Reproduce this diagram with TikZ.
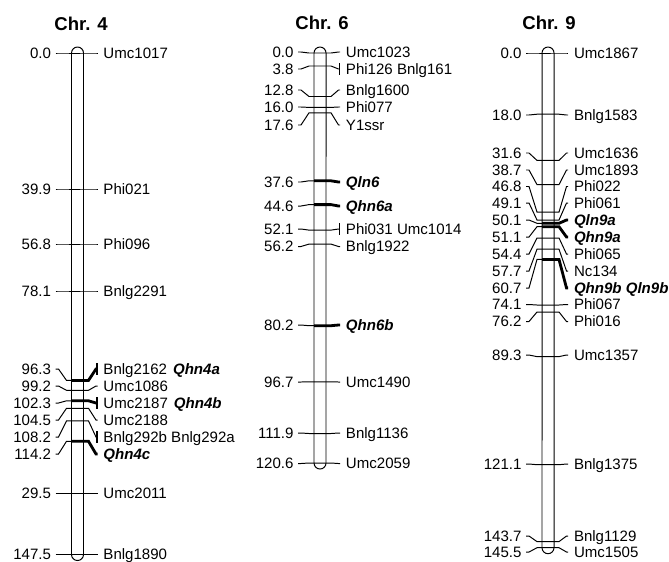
\documentclass[tikz,border=0pt]{standalone}
\usepackage{fontspec}
\setmainfont{Liberation Sans}
\usetikzlibrary{calc,arrows.meta}

\newcommand{\qn}[1]{\textbf{\textit{#1}}}
% marker: id, bar centre, y on bar, y of labels, position, name, style of right part
\newcommand{\mrk}[7]{%
  \coordinate (p#1) at (#2,#3);
  \node[posnum] (n#1) at (#2-26,#4) {#5};
  \node[mkname] (m#1) at (#2+25.5,#4) {#6};
  \draw ($(n#1.east)+(4,0)$) -- ++(3,0) -- ($(p#1)+(-11,0)$) -- ($(p#1)+(-6,0)$);
  \draw[#7] ($(p#1)+(-6,0)$) -- ($(p#1)+(11,0)$) -- ($(m#1.west)+(-7,0)$) -- ($(m#1.west)+(-5.5,0)$);
}
% chromosome bar: centre, top, bottom
\newcommand{\chrbar}[3]{%
  \draw (#1-6,#2) arc[start angle=180,end angle=0,radius=0.15cm]
    -- (#1+6,#3) arc[start angle=0,end angle=-180,radius=0.15cm] -- cycle;
}

\begin{document}
\begin{tikzpicture}[x=0.025cm,y=-0.025cm,line width=0.7pt,
  posnum/.style={anchor=east,inner sep=0pt,text height=7.7pt,text depth=0pt,
    font=\fontsize{10.7}{12}\selectfont},
  mkname/.style={anchor=west,inner sep=0pt,text height=7.7pt,text depth=0pt,
    font=\fontsize{10.7}{12}\selectfont},
  chrtitle/.style={inner sep=0pt,font=\fontsize{13.2}{15}\selectfont\bfseries},
  qtl/.style={line width=2pt},
  samepos/.style={-{Bar[width=0.3cm,line width=1pt]}}]
\useasboundingbox (0,0) rectangle (669,561);

% Chr. 4
\node[chrtitle] (t4) at (81,24) {Chr. 4};
\chrbar{77.5}{53}{554.5}
\mrk{4a}{77.5}{53}{53}{0.0}{Umc1017}{}
\mrk{4b}{77.5}{189}{189}{39.9}{Phi021}{}
\mrk{4c}{77.5}{244}{244}{56.8}{Phi096}{}
\mrk{4d}{77.5}{291}{291}{78.1}{Bnlg2291}{}
\mrk{4e}{77.5}{380.4}{369}{96.3}{Bnlg2162\hspace{.4em}\qn{Qhn4a}}{qtl,samepos}
\mrk{4f}{77.5}{390.3}{386}{99.2}{Umc1086}{}
\mrk{4g}{77.5}{400.8}{403}{102.3}{Umc2187\hspace{.4em}\qn{Qhn4b}}{qtl,samepos}
\mrk{4h}{77.5}{408.3}{420}{104.5}{Umc2188}{}
\mrk{4i}{77.5}{420.9}{437}{108.2}{Bnlg292b Bnlg292a}{samepos}
\mrk{4j}{77.5}{441.3}{454}{114.2}{\qn{Qhn4c}}{qtl}
\mrk{4k}{77.5}{493.3}{493.3}{29.5}{Umc2011}{}
\mrk{4l}{77.5}{554.5}{554.5}{147.5}{Bnlg1890}{}

% Chr. 6
\node[chrtitle] (t6) at (322,23) {Chr. 6};
\chrbar{320}{53}{463}
\mrk{6a}{320}{53}{52}{0.0}{Umc1023}{}
\mrk{6b}{320}{66}{69}{3.8}{Phi126 Bnlg161}{samepos}
\mrk{6c}{320}{96.5}{90}{12.8}{Bnlg1600}{}
\mrk{6d}{320}{107.4}{107}{16.0}{Phi077}{}
\mrk{6e}{320}{112.8}{125}{17.6}{Y1ssr}{}
\mrk{6f}{320}{180.8}{182}{37.6}{\qn{Qln6}}{qtl}
\mrk{6g}{320}{204.6}{206}{44.6}{\qn{Qhn6a}}{qtl}
\mrk{6h}{320}{230.1}{229}{52.1}{Phi031 Umc1014}{samepos}
\mrk{6i}{320}{244.1}{246.5}{56.2}{Bnlg1922}{}
\mrk{6j}{320}{325.7}{325}{80.2}{\qn{Qhn6b}}{qtl}
\mrk{6k}{320}{381.8}{382}{96.7}{Umc1490}{}
\mrk{6l}{320}{433.5}{433}{111.9}{Bnlg1136}{}
\mrk{6m}{320}{463}{463.5}{120.6}{Umc2059}{}

% Chr. 9
\node[chrtitle] (t9) at (549,23) {Chr. 9};
\chrbar{548}{53}{547.7}
\mrk{9a}{548}{53}{53}{0.0}{Umc1867}{}
\mrk{9b}{548}{114.2}{115}{18.0}{Bnlg1583}{}
\mrk{9c}{548}{160.4}{153}{31.6}{Umc1636}{}
\mrk{9d}{548}{184.6}{170}{38.7}{Umc1893}{}
\mrk{9e}{548}{212.1}{186.5}{46.8}{Phi022}{}
\mrk{9f}{548}{220}{203}{49.1}{Phi061}{}
\mrk{9g}{548}{223.3}{220}{50.1}{\qn{Qln9a}}{qtl}
\mrk{9h}{548}{226.7}{237}{51.1}{\qn{Qhn9a}}{qtl}
\mrk{9i}{548}{238}{254}{54.4}{Phi065}{}
\mrk{9j}{548}{249.2}{271}{57.7}{Nc134}{}
\mrk{9k}{548}{259.4}{288}{60.7}{\qn{Qhn9b Qln9b}}{qtl}
\mrk{9l}{548}{305}{304.5}{74.1}{Phi067}{}
\mrk{9m}{548}{312}{321.5}{76.2}{Phi016}{}
\mrk{9n}{548}{356.6}{355}{89.3}{Umc1357}{}
\mrk{9o}{548}{464.7}{464}{121.1}{Bnlg1375}{}
\mrk{9p}{548}{541.6}{536}{143.7}{Bnlg1129}{}
\mrk{9q}{548}{547.7}{552}{145.5}{Umc1505}{}
\end{tikzpicture}
\end{document}
